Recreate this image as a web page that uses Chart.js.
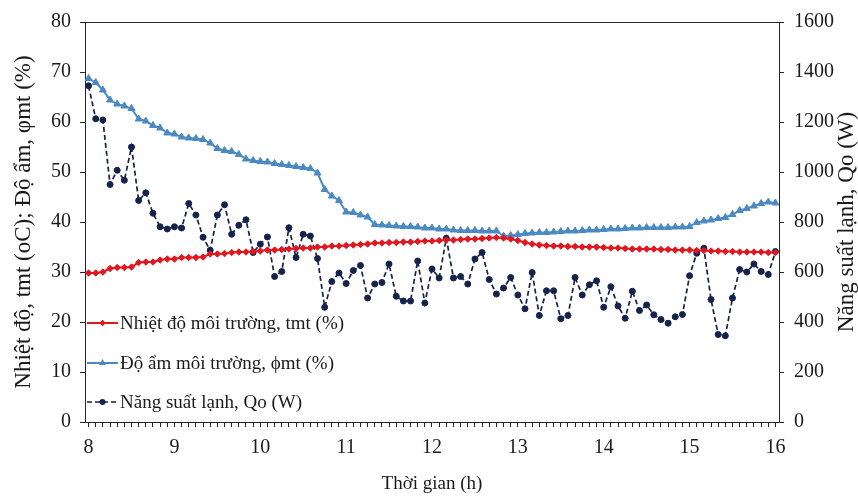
<!DOCTYPE html>
<html>
<head>
<meta charset="utf-8">
<script src="https://cdn.jsdelivr.net/npm/chart.js@4"></script>
<style>
  html, body { margin: 0; padding: 0; background: #fff; }
  canvas { display: block; }
</style>
</head>
<body>
<canvas id="chart" width="858" height="497"></canvas>
<script>
// Sample times: one reading every 5 minutes from 8:00 to 16:00
const sampleHours = [];
for (let m = 0; m <= 480; m += 5) sampleHours.push(8 + m / 60);

const hourLabels = ['8', '9', '10', '11', '12', '13', '14', '15', '16'];

// Nhiệt độ môi trường, tmt
const tempValues = [
    29.8, 29.8, 30.0, 30.7, 30.9, 30.9, 31.0, 31.9, 32.0, 32.0, 32.4, 32.6, 32.6, 32.9, 32.9, 32.9, 33.0, 33.6, 33.6, 33.7,
    33.9, 34.0, 34.0, 34.1, 34.2, 34.4, 34.4, 34.5, 34.6, 34.7, 34.8, 34.8, 35.0, 35.0, 35.2, 35.2, 35.3, 35.4, 35.5, 35.6,
    35.8, 35.8, 35.9, 35.9, 36.0, 36.0, 36.1, 36.2, 36.2, 36.3, 36.4, 36.4, 36.5, 36.6, 36.6, 36.7, 36.8, 36.9,
    36.8, 36.6, 36.3, 35.9, 35.6, 35.4, 35.3, 35.2, 35.2, 35.1, 35.1, 35.0, 35.0, 35.0, 34.9, 34.8, 34.8, 34.7, 34.6, 34.6, 34.6,
    34.6, 34.5, 34.5, 34.4, 34.4, 34.4, 34.3, 34.3, 34.2, 34.2, 34.1, 34.1, 34.0, 34.0, 34.0, 34.0, 33.9, 33.9
];

// Độ ẩm môi trường, φmt
const humidValues = [
    68.7, 67.9, 66.4, 64.4, 63.6, 63.2, 62.7, 60.6, 60.2, 59.3, 58.8, 57.8, 57.6, 57.0, 56.8, 56.7, 56.5, 55.8, 54.7, 54.3,
    54.1, 53.5, 52.6, 52.3, 52.1, 52.0, 51.7, 51.5, 51.3, 51.1, 50.9, 50.7, 49.8, 46.5, 45.2, 44.3, 42.0, 41.9, 41.4, 41.0,
    39.5, 39.4, 39.3, 39.2, 39.1, 39.1, 39.0, 38.8, 38.8, 38.6, 38.6, 38.4, 38.3, 38.3, 38.3, 38.2, 38.2, 38.2,
    37.2, 37.3, 37.5, 37.7, 37.8, 37.9, 37.9, 38.0, 38.1, 38.2, 38.2, 38.3, 38.4, 38.4, 38.5, 38.6, 38.6, 38.7, 38.8, 38.8, 38.9,
    38.9, 38.9, 38.9, 39.0, 39.0, 39.1, 39.9, 40.2, 40.4, 40.7, 40.9, 41.5, 42.3, 42.7, 43.2, 43.7, 44.0, 43.8
];

// Năng suất lạnh, Qo (W)
const qoValues = [
    1345, 1213, 1208, 950, 1007, 967, 1100, 886, 917, 835, 781, 772, 781, 776, 874, 828, 739, 687, 828, 869,
    751, 787, 809, 678, 711, 740, 582, 602, 777, 658, 751, 744, 654, 459, 562, 596, 554, 606, 626, 496,
    552, 558, 632, 503, 484, 484, 644, 476, 612, 576, 735, 576, 582, 552, 652, 678, 570, 512, 536,
    578, 508, 453, 598, 426, 525, 525, 413, 426, 578, 508, 549, 565, 459, 541, 464, 415, 523, 446, 468,
    429, 410, 395, 421, 430, 585, 675, 695, 490, 350, 345, 496, 610, 600, 632, 602, 590, 682
];

const leftTitle = 'Nhiệt độ, tmt (oC); Độ ẩm, φmt (%)';
const rightTitle = 'Năng suất lạnh, Qo (W)';
const xTitle = 'Thời gian (h)';

const serif = "'Liberation Serif', 'Times New Roman', serif";
const inkColor = '#1a1a1a';
const axisColor = '#262626';

const tempColor = '#E3161E';
const humidColor = '#4A89C2';
const qoColor = '#14224C';

Chart.defaults.font.family = serif;
Chart.defaults.color = inkColor;

// top border, right-hand title (reads bottom to top) and the in-plot legend
const framePlugin = {
    id: 'frame',
    afterDraw(chart) {
        const {ctx, chartArea: a} = chart;
        ctx.save();
        ctx.strokeStyle = axisColor;
        ctx.lineWidth = 1;
        ctx.beginPath();
        ctx.moveTo(a.left, a.top + 0.5);
        ctx.lineTo(a.right, a.top + 0.5);
        ctx.stroke();

        ctx.fillStyle = inkColor;
        ctx.font = '23px ' + serif;
        ctx.textAlign = 'center';
        ctx.textBaseline = 'middle';
        ctx.translate(847, (a.top + a.bottom) / 2);
        ctx.rotate(-Math.PI / 2);
        ctx.fillText(rightTitle, 0, 0);
        ctx.restore();

        const rows = [323, 363, 402];
        chart.data.datasets.forEach((ds, i) => {
            const y = rows[i];
            ctx.save();
            ctx.strokeStyle = ds.borderColor;
            ctx.lineWidth = ds.borderWidth;
            ctx.setLineDash(ds.borderDash || []);
            ctx.beginPath();
            ctx.moveTo(a.left + 2, y);
            ctx.lineTo(a.left + 33, y);
            ctx.stroke();
            ctx.setLineDash([]);
            ctx.fillStyle = ds.pointBackgroundColor;
            ctx.strokeStyle = ds.pointBorderColor;
            ctx.lineWidth = 1;
            Chart.helpers.drawPoint(ctx, {pointStyle: ds.pointStyle, radius: ds.pointRadius, rotation: 0}, a.left + 17.5, y);
            ctx.fillStyle = inkColor;
            ctx.font = '19px ' + serif;
            ctx.textAlign = 'left';
            ctx.textBaseline = 'middle';
            ctx.fillText(ds.legendText, a.left + 35, y + 1.5);
            ctx.restore();
        });
    }
};

new Chart(document.getElementById('chart'), {
    type: 'line',
    data: {
        labels: sampleHours,
        datasets: [
            {
                label: 'tmt',
                legendText: 'Nhiệt độ môi trường, tmt (%)',
                data: tempValues,
                yAxisID: 'y',
                borderColor: tempColor,
                borderWidth: 2,
                pointStyle: 'rectRot',
                pointRadius: 3.2,
                pointBackgroundColor: tempColor,
                pointBorderColor: tempColor,
                pointBorderWidth: 1
            },
            {
                label: 'phi',
                legendText: 'Độ ẩm môi trường, ϕmt (%)',
                data: humidValues,
                yAxisID: 'y',
                borderColor: humidColor,
                borderWidth: 2,
                pointStyle: 'triangle',
                pointRadius: 4,
                pointBackgroundColor: humidColor,
                pointBorderColor: humidColor,
                pointBorderWidth: 1
            },
            {
                label: 'Qo',
                legendText: 'Năng suất lạnh, Qo (W)',
                data: qoValues,
                yAxisID: 'y1',
                borderColor: qoColor,
                borderWidth: 1.7,
                borderDash: [5, 3],
                pointStyle: 'circle',
                pointRadius: 3,
                pointBackgroundColor: qoColor,
                pointBorderColor: qoColor,
                pointBorderWidth: 1
            }
        ]
    },
    options: {
        responsive: false,
        animation: false,
        layout: { padding: { top: 22, left: 0, right: 0, bottom: 0 } },
        plugins: {
            legend: { display: false },
            tooltip: { enabled: false }
        },
        scales: {
            x: {
                type: 'linear',
                min: 8 - 1 / 24,
                max: 16 + 1 / 24,
                afterBuildTicks: (axis) => {
                    axis.ticks = sampleHours.map(v => ({ value: v }));
                },
                afterFit: (s) => { s.height = 75; },
                ticks: {
                    autoSkip: false,
                    maxRotation: 0,
                    padding: 9,
                    font: { size: 20 },
                    callback: (v) => {
                        const h = Math.round(v);
                        return Math.abs(v - h) < 1e-6 ? hourLabels[h - 8] : '';
                    }
                },
                grid: { drawOnChartArea: false, tickLength: 5, color: axisColor },
                border: { color: axisColor, width: 1 },
                title: {
                    display: true,
                    text: xTitle,
                    font: { size: 19 },
                    padding: { top: 0, bottom: 2 }
                }
            },
            y: {
                position: 'left',
                min: 0,
                max: 80,
                afterFit: (s) => { s.width = 85; },
                ticks: { stepSize: 10, padding: 9, font: { size: 20 }, callback: (v) => String(v) },
                grid: { drawOnChartArea: false, tickLength: 5, color: axisColor },
                border: { color: axisColor, width: 1 },
                title: {
                    display: true,
                    text: leftTitle,
                    font: { size: 23 },
                    padding: { top: 10, bottom: 0 }
                }
            },
            y1: {
                position: 'right',
                min: 0,
                max: 1600,
                afterFit: (s) => { s.width = 79; },
                ticks: { stepSize: 200, padding: 10, font: { size: 20 }, callback: (v) => String(v) },
                grid: { drawOnChartArea: false, tickLength: 5, color: axisColor },
                border: { color: axisColor, width: 1 }
            }
        }
    },
    plugins: [framePlugin]
});
</script>
</body>
</html>
